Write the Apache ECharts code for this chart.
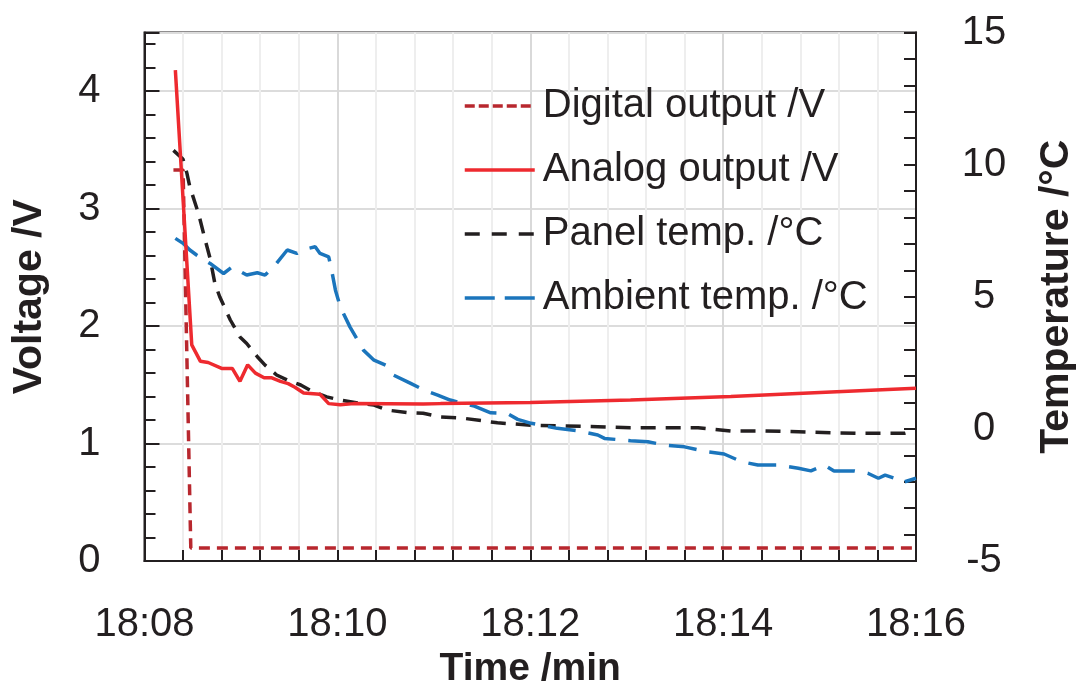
<!DOCTYPE html>
<html>
<head>
<meta charset="utf-8">
<script src="https://cdn.jsdelivr.net/npm/echarts@6/dist/echarts.min.js"></script>
<style>
html,body{margin:0;padding:0;background:#fff;}
#chart{width:1080px;height:684px;}
</style>
</head>
<body>
<div id="chart"></div>
<script>
// minutes after 18:08
const xTickLabels = ['18:08','18:10','18:12','18:14','18:16'];
const seriesNames = ['Digital output /V','Analog output /V','Panel temp. /\u00b0C','Ambient temp. /\u00b0C'];

const digitalT = [0.30, 0.40, 0.48, 8.0];
const digitalV = [3.33, 3.33, 0.11, 0.11];

const analogT = [0.32, 0.49, 0.58, 0.66, 0.80, 0.91, 0.99, 1.07, 1.15, 1.24, 1.32, 1.41, 1.49, 1.56, 1.65, 1.82, 1.91, 2.03, 2.17, 2.89, 3.07, 4.00, 5.04, 6.08, 7.12, 8.00];
const analogV = [4.18, 1.84, 1.70, 1.69, 1.64, 1.64, 1.53, 1.67, 1.60, 1.56, 1.56, 1.53, 1.51, 1.48, 1.43, 1.42, 1.34, 1.33, 1.34, 1.336, 1.34, 1.35, 1.37, 1.40, 1.44, 1.47];

const panelT = [0.30, 0.40, 0.44, 0.47, 0.56, 0.63, 0.68, 0.73, 0.78, 0.89, 0.99, 1.06, 1.17, 1.25, 1.37, 1.48, 1.62, 1.75, 1.89, 2.03, 2.24, 2.38, 2.52, 2.72, 2.89, 3.07, 3.31, 3.66, 4.01, 4.35, 4.70, 5.04, 5.74, 6.08, 6.43, 6.78, 7.13, 7.47, 7.88, 8.00];
const panelC = [10.54, 10.2, 9.67, 9.16, 8.15, 7.14, 6.45, 5.5, 5.0, 4.12, 3.48, 3.23, 2.73, 2.41, 2.04, 1.85, 1.66, 1.40, 1.21, 1.09, 0.96, 0.90, 0.71, 0.62, 0.59, 0.45, 0.40, 0.23, 0.14, 0.11, 0.08, 0.04, 0.04, -0.08, -0.08, -0.11, -0.15, -0.17, -0.17, -0.05];

const ambientT = [0.32, 0.40, 0.47, 0.54, 0.68, 0.82, 0.91, 1.06, 1.17, 1.25, 1.34, 1.48, 1.58, 1.65, 1.77, 1.82, 1.91, 1.94, 1.98, 2.03, 2.13, 2.27, 2.38, 2.50, 2.58, 2.76, 2.90, 3.04, 3.17, 3.42, 3.59, 3.76, 3.87, 4.01, 4.28, 4.49, 4.70, 4.77, 5.04, 5.22, 5.39, 5.60, 5.84, 6.01, 6.19, 6.36, 6.57, 6.78, 6.91, 7.05, 7.15, 7.36, 7.50, 7.61, 7.68, 7.78, 7.85, 8.00];
const ambientC = [7.21, 7.02, 6.77, 6.58, 6.26, 5.88, 6.13, 5.82, 5.91, 5.82, 6.13, 6.77, 6.64, 6.79, 6.89, 6.64, 6.51, 6.01, 5.25, 4.62, 3.86, 2.98, 2.60, 2.41, 2.04, 1.72, 1.47, 1.28, 1.09, 0.86, 0.61, 0.59, 0.36, 0.21, 0.02, -0.07, -0.23, -0.36, -0.45, -0.49, -0.61, -0.68, -0.87, -0.95, -1.24, -1.37, -1.37, -1.49, -1.59, -1.37, -1.59, -1.59, -1.68, -1.87, -1.75, -1.87, -2.04, -1.87];

const zip = (a, b) => a.map((v, i) => [v, b[i]]);

const FONT = "'Liberation Sans', Arial, Helvetica, sans-serif";
const INK = '#231f20';
const C_DIG = '#b8272e', C_ANA = '#ee2a2f', C_AMB = '#1b75bc';
const LW = 3.5;
const NOSYM = {color: 'rgba(0,0,0,0)', borderColor: 'rgba(0,0,0,0)', borderWidth: 0, opacity: 0};

const chart = echarts.init(document.getElementById('chart'), null, {renderer: 'canvas'});

const option = {
  animation: false,
  backgroundColor: '#ffffff',
  textStyle: {fontFamily: FONT, color: INK},
  grid: {left: 144.5, right: 164, top: 32.5, bottom: 123, show: true, borderColor: INK, borderWidth: 2,
         backgroundColor: 'transparent', containLabel: false, outerBoundsMode: 'none'},
  legend: {
    orient: 'vertical',
    left: 458,
    top: 81,
    itemWidth: 70,
    itemHeight: 14,
    itemGap: 24,
    itemStyle: NOSYM,
    textStyle: {fontSize: 40, color: INK, fontFamily: FONT, padding: [0, 0, 0, 3]},
    data: [
      {name: seriesNames[0], itemStyle: NOSYM, lineStyle: {color: C_DIG, width: LW, type: [10, 4]}},
      {name: seriesNames[1], itemStyle: NOSYM, lineStyle: {color: C_ANA, width: LW, type: 'solid'}},
      {name: seriesNames[2], itemStyle: NOSYM, lineStyle: {color: INK, width: LW, type: [15, 12]}},
      {name: seriesNames[3], itemStyle: NOSYM, lineStyle: {color: C_AMB, width: LW, type: [30, 10]}}
    ]
  },
  xAxis: {
    type: 'value',
    min: 0, max: 8, interval: 2,
    name: 'Time /min',
    nameLocation: 'middle',
    nameGap: 87,
    nameTextStyle: {fontSize: 39, fontWeight: 'bold', color: INK, fontFamily: FONT},
    axisLine: {show: true, lineStyle: {color: INK, width: 2}},
    axisTick: {show: true, inside: true, length: 11, lineStyle: {color: INK, width: 2}},
    minorTick: {show: true, splitNumber: 5, length: 11, lineStyle: {color: INK, width: 2}},
    axisLabel: {
      fontSize: 40, color: INK, fontFamily: FONT, margin: 44,
      formatter: v => xTickLabels[Math.round(v / 2)] || ''
    },
    splitLine: {show: true, lineStyle: {color: '#d9d9d9', width: 2}},
    minorSplitLine: {show: true, lineStyle: {color: '#eeeeee', width: 2}}
  },
  yAxis: [
    {
      type: 'value',
      min: 0, max: 4.5, interval: 1,
      position: 'left',
      name: 'Voltage /V',
      nameLocation: 'middle',
      nameGap: 94,
      nameTextStyle: {fontSize: 41, fontWeight: 'bold', color: INK, fontFamily: FONT},
      axisLine: {show: true, lineStyle: {color: INK, width: 2}},
      axisTick: {show: true, inside: true, length: 15, lineStyle: {color: INK, width: 2}},
      minorTick: {show: true, splitNumber: 5, length: 11, lineStyle: {color: INK, width: 2}},
      axisLabel: {fontSize: 40, color: INK, fontFamily: FONT, margin: 44, showMaxLabel: false,
                  formatter: v => (Math.abs(v - Math.round(v)) < 1e-6 ? String(Math.round(v)) : '')},
      splitLine: {show: true, lineStyle: {color: '#dcdcdc', width: 2}}
    },
    {
      type: 'value',
      min: -5, max: 15, interval: 5,
      position: 'right',
      name: 'Temperature /\u00b0C',
      nameLocation: 'middle',
      nameGap: 120,
      nameRotate: 90,
      nameTextStyle: {fontSize: 41, fontWeight: 'bold', color: INK, fontFamily: FONT},
      axisLine: {show: true, lineStyle: {color: INK, width: 2}},
      axisTick: {show: true, inside: true, length: 12, lineStyle: {color: INK, width: 2}},
      minorTick: {show: true, splitNumber: 5, length: 12, lineStyle: {color: INK, width: 2}},
      axisLabel: {fontSize: 40, color: INK, fontFamily: FONT, margin: 68, align: 'center'},
      splitLine: {show: false}
    }
  ],
  series: [
    {
      name: seriesNames[0], type: 'line', yAxisIndex: 0, symbol: 'none', z: 3,
      data: zip(digitalT, digitalV),
      lineStyle: {color: C_DIG, width: LW, type: [11, 7]},
      itemStyle: {color: C_DIG}
    },
    {
      name: seriesNames[1], type: 'line', yAxisIndex: 0, symbol: 'none', z: 4,
      data: zip(analogT, analogV),
      lineStyle: {color: C_ANA, width: LW, type: 'solid'},
      itemStyle: {color: C_ANA}
    },
    {
      name: seriesNames[2], type: 'line', yAxisIndex: 1, symbol: 'none', z: 3,
      data: zip(panelT, panelC),
      lineStyle: {color: INK, width: LW, type: [15, 10]},
      itemStyle: {color: INK}
    },
    {
      name: seriesNames[3], type: 'line', yAxisIndex: 1, symbol: 'none', z: 3,
      data: zip(ambientT, ambientC),
      lineStyle: {color: C_AMB, width: LW, type: [28, 13]},
      itemStyle: {color: C_AMB}
    }
  ]
};
chart.setOption(option);
</script>
</body>
</html>
